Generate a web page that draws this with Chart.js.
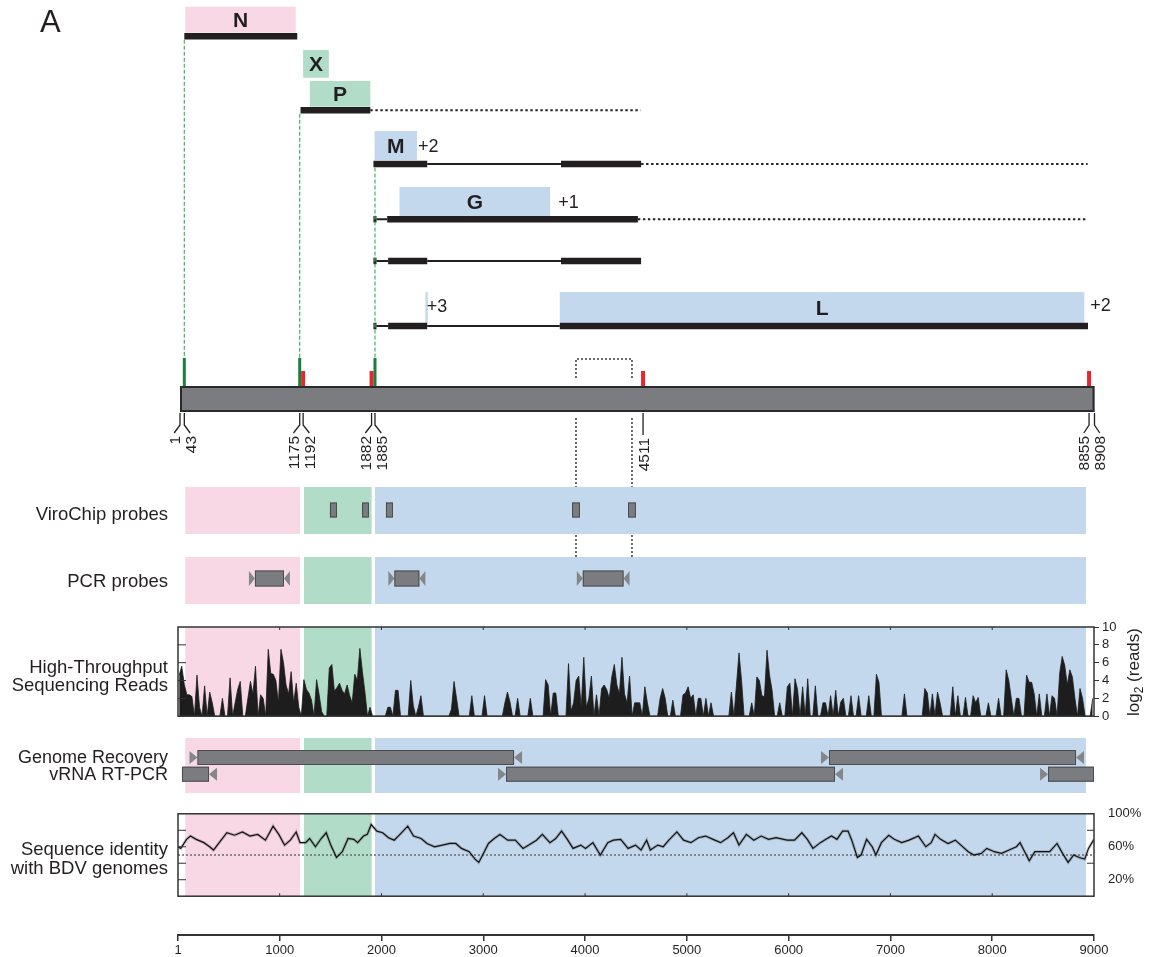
<!DOCTYPE html>
<html>
<head>
<meta charset="utf-8">
<title>Genome organization, probes and sequencing coverage</title>
<script src="https://cdn.jsdelivr.net/npm/chart.js@4.4.1/dist/chart.umd.min.js"></script>
<style>
  html, body { margin: 0; padding: 0; background: #ffffff; }
  #figure { position: relative; width: 1152px; height: 957px; overflow: hidden; background: #ffffff; }
  #figure canvas { position: absolute; left: 0; }
</style>
</head>
<body>
<div id="figure"></div>
<script>
// ---------------- genome map (nucleotide positions) ----------------
const genomeStart = 1;
const genomeEnd = 8908;
const sitePositions = [1, 43, 1175, 1192, 1882, 1885, 4511, 8855, 8908];
const initiationSites = [43, 1175, 1885];
const terminationSites = [1192, 1882, 4511, 8855];

// open reading frames
const orfNames = ['N', 'X', 'P', 'M', 'G', 'L', ''];
const orfStart = [52, 1200, 1265, 1896, 2139, 3700, 2391];
const orfEnd   = [1128, 1451, 1855, 2310, 3606, 8809, 2414];
const orfFrame = ['', '', '', '+2', '+1', '+2', '+3'];

// transcripts: coding blocks, spliced introns and read-through
const exonTx    = ['N', 'P', 'M', 'M', 'G', 'G', 'MG', 'MG', 'MG', 'L', 'L', 'L'];
const exonStart = [43, 1175, 1885, 3712, 1885, 2019, 1885, 2028, 3712, 1885, 2028, 3700];
const exonEnd   = [1143, 1855, 2409, 4492, 1915, 4461, 1915, 2409, 4492, 1915, 2409, 8845];
const intronTx    = ['M', 'G', 'MG', 'MG', 'L', 'L'];
const intronStart = [2409, 1915, 1915, 2409, 1915, 2409];
const intronEnd   = [3712, 2019, 2028, 3712, 2028, 3700];
const readThroughTx    = ['P', 'M', 'G'];
const readThroughStart = [1855, 4492, 4461];
const readThroughEnd   = [4487, 8841, 8841];

// ---------------- tracks (shared nucleotide axis) ----------------
const axisMin = 1;
const axisMax = 9000;
const axisTicks = [1, 1000, 2000, 3000, 4000, 5000, 6000, 7000, 8000, 9000];
const geneRegionStart = [72, 1239, 1936];
const geneRegionEnd   = [1200, 1903, 8921];

const viroProbeStart = [1494, 1809, 2044, 3872, 4422];
const viroProbeEnd   = [1563, 1877, 2113, 3950, 4500];

const pcrStart = [698, 2068, 3919];
const pcrEnd   = [1101, 2431, 4437];

const ampStart = [114, 6318, 40, 3145, 8470];
const ampEnd   = [3381, 8902, 384, 6534, 9000];
const ampLane  = [0, 0, 1, 1, 1];
const ampFwd   = [1, 1, 0, 1, 1];
const ampRev   = [1, 1, 1, 1, 0];

// log2(read depth) in 25-nt bins, one row per 1000 nt
const readBin = 25;
const readsLog2 = [
  4.6,5.6,3.6,2.4,2.4,2.2,0,4.6,1.0,0, 3.4,0,2.7,1.5,0,0,0,2.0,0,0, 4.3,0,1.5,3.0,3.9,0,0,2.0,3.9,2.5, 5.6,0,2.4,2.0,0,7.5,4.8,4.7,4.0,1.5,
  7.5,6.0,3.5,2.5,5.0,1.5,3.7,1.0,0,4.1, 3.0,2.6,1.8,0,4.1,2.4,0.5,0,0,5.4, 5.8,2.8,3.2,3.7,2.9,2.5,3.5,2.3,1.5,4.7, 4.0,7.6,5.0,2.7,0,1.0,0,0,0,0,
  0,0,1.0,1.0,0,2.9,2.9,0,0,0, 0,4.0,1.2,0,1.0,2.3,0,0,0,0, 0,0,0,0,0,0,0,0.8,3.9,2.0, 0,0,0,0,0,2.3,0,0,0,0,
  2.3,0,0,0,0,0,0,0,1.5,2.7, 1.6,0,0,2.0,0,0,0,0,2.0,0, 0,0,0,0,4.1,3.5,0,2.6,2.6,0, 0,0,0,5.9,0.6,1.5,4.0,4.5,1.0,6.6,
  1.0,2.0,4.5,0,2.4,0,3.1,3.5,3.0,2.0, 4.4,5.8,3.5,2.5,6.6,2.5,1.5,4.5,0,1.5, 1.5,1.5,0,3.3,1.5,0,0,0,0,2.0, 3.1,2.0,0,0,1.8,0,0,0,2.4,2.6,
  3.3,2.0,2.4,0,2.0,2.0,0,2.0,0,1.5, 0,0,0,0,0,0,0,2.7,0,3.5, 7.1,4.0,0,0,0,1.5,0,4.4,4.0,2.3, 2.2,7.4,4.6,2.9,0,0,1.5,0,0,3.3,
  3.7,0,4.2,3.0,0,3.3,0,4.2,0,0, 3.4,0,0,1.5,1.5,0,2.3,0,2.9,0, 1.6,2.0,0,0,2.3,0,0,2.3,0,0, 0,2.3,0,0,4.7,3.8,0,0,0,0,
  0,0,0,0,0,2.5,0,0,0,0, 0,0,0,3.1,2.6,0,2.5,0,2.7,1.5, 0,0,0,0,3.3,0,2.3,0,0,2.1, 0,0,2.3,1.5,2.1,0,0,0,1.5,0,
  0,0,2.0,0,0,5.2,4.0,2.0,0,2.0, 2.0,0,0,4.6,3.8,3.8,2.5,0,2.5,0, 0,2.5,0,2.3,2.0,0,4.8,6.7,5.7,3.5, 5.2,4.4,2.0,0,3.1,2.0,0,0,0,2.0
];
const readTicks = [0, 2, 4, 6, 8, 10];

// percent identity with BDV genomes along the genome
const identityPos = [
  1, 28, 85, 123, 180, 255, 312, 350, 406, 481,
  557, 633, 708, 784, 860, 935, 991, 1048, 1105, 1162,
  1200, 1256, 1294, 1351, 1408, 1457, 1502, 1558, 1615, 1672,
  1728, 1766, 1823, 1861, 1899, 1955, 2012, 2069, 2125, 2182,
  2258, 2315, 2390, 2447, 2522, 2598, 2673, 2730, 2786, 2862,
  2919, 2956, 2994, 3051, 3108, 3164, 3240, 3315, 3391, 3447,
  3523, 3580, 3655, 3712, 3769, 3826, 3882, 3958, 4005, 4077,
  4150, 4223, 4278, 4350, 4423, 4496, 4550, 4605, 4641, 4714,
  4768, 4823, 4902, 4968, 5040, 5113, 5185, 5258, 5331, 5403,
  5458, 5512, 5585, 5658, 5730, 5803, 5876, 5985, 6058, 6130,
  6184, 6239, 6312, 6366, 6421, 6475, 6530, 6584, 6620, 6675,
  6712, 6766, 6821, 6857, 6911, 6984, 7038, 7111, 7183, 7275,
  7348, 7401, 7438, 7493, 7566, 7638, 7692, 7765, 7820, 7893,
  7947, 8020, 8092, 8165, 8238, 8274, 8310, 8364, 8419, 8492,
  8564, 8637, 8691, 8746, 8800, 8855, 8909, 8946, 9000
];
const identityPct = [
  60, 58, 69, 73, 69, 65, 60, 56, 65, 77,
  74, 78, 73, 75, 68, 85, 75, 62, 68, 78,
  65, 65, 70, 60, 70, 77, 62, 47, 54, 70,
  69, 65, 73, 75, 87, 79, 77, 71, 68, 75,
  85, 73, 70, 64, 60, 62, 64, 64, 58, 54,
  45, 41, 50, 64, 70, 75, 68, 68, 58, 62,
  68, 75, 65, 70, 79, 69, 58, 62, 58, 65,
  50, 65, 68, 69, 58, 62, 56, 68, 56, 62,
  60, 68, 78, 68, 65, 71, 73, 69, 65, 71,
  77, 62, 75, 68, 73, 69, 71, 68, 68, 77,
  69, 58, 65, 69, 73, 69, 79, 79, 68, 47,
  50, 69, 60, 50, 65, 74, 69, 65, 68, 73,
  60, 65, 75, 69, 64, 68, 62, 54, 50, 52,
  58, 54, 52, 56, 60, 65, 56, 43, 54, 54,
  54, 64, 52, 41, 50, 47, 45, 58, 69
];
const identityCutoff = 50;
const identityTicks = [20, 60, 100];

// ---------------- styling ----------------
const INK = '#231f20';
const FRAME = '#333333';
const FONT = '"Liberation Sans", Arial, Helvetica, sans-serif';
const REGION_FILL = ['#f9d8e5', '#b1dcc8', '#c3d8ec'];
const ORF_FILL = ['#f9d8e5', '#b1dcc8', '#b1dcc8', '#c3d8ec', '#c3d8ec', '#c3d8ec', '#c3d8ec'];
const BAR_GREY = '#7b7c80';
const EDGE_GREY = '#4b4c4f';
const START_GREEN = '#1a7f3f';
const GUIDE_GREEN = '#45b06a';
const STOP_RED = '#e8262b';

Chart.defaults.font.family = FONT;
Chart.defaults.color = INK;

const fig = document.getElementById('figure');
function addCanvas(top, height) {
  const c = document.createElement('canvas');
  c.width = 1152;
  c.height = height;
  c.style.top = top + 'px';
  c.style.width = '1152px';
  c.style.height = height + 'px';
  fig.appendChild(c);
  return c;
}
function baseOptions(padding) {
  return {
    responsive: false,
    animation: false,
    events: [],
    devicePixelRatio: 1,
    layout: { padding },
    plugins: { legend: { display: false }, tooltip: { enabled: false } },
    elements: { point: { radius: 0 } }
  };
}
function trackX() {
  return { type: 'linear', min: axisMin, max: axisMax, display: false };
}
function line(ctx, x1, y1, x2, y2) {
  ctx.beginPath(); ctx.moveTo(x1, y1); ctx.lineTo(x2, y2); ctx.stroke();
}
function drawRegions(chart, y1, y2) {
  const ctx = chart.ctx, xs = chart.scales.x;
  geneRegionStart.forEach((s, i) => {
    const a = xs.getPixelForValue(s), b = xs.getPixelForValue(geneRegionEnd[i]);
    ctx.fillStyle = REGION_FILL[i];
    ctx.fillRect(a, y1, b - a, y2 - y1);
  });
}
function drawTrackLabel(ctx, lines, baselines, size) {
  ctx.save();
  ctx.fillStyle = INK;
  ctx.font = size + 'px ' + FONT;
  ctx.textAlign = 'right';
  ctx.textBaseline = 'alphabetic';
  lines.forEach((t, i) => ctx.fillText(t, 168, baselines[i]));
  ctx.restore();
}
// amplicon glyph: forward primer, product, reverse primer
function drawAmplicon(ctx, x1, x2, yc, h, aw, th, fwd, rev) {
  const r1 = fwd ? x1 + aw : x1;
  const r2 = rev ? x2 - aw : x2;
  ctx.fillStyle = '#85868a';
  if (fwd) {
    ctx.beginPath(); ctx.moveTo(x1, yc - th / 2); ctx.lineTo(x1 + aw, yc); ctx.lineTo(x1, yc + th / 2); ctx.closePath(); ctx.fill();
  }
  if (rev) {
    ctx.beginPath(); ctx.moveTo(x2, yc - th / 2); ctx.lineTo(x2 - aw, yc); ctx.lineTo(x2, yc + th / 2); ctx.closePath(); ctx.fill();
  }
  ctx.fillStyle = BAR_GREY;
  ctx.fillRect(r1, yc - h / 2, r2 - r1, h);
  ctx.strokeStyle = EDGE_GREY;
  ctx.lineWidth = 1;
  ctx.strokeRect(r1 + 0.5, yc - h / 2 + 0.5, r2 - r1 - 1, h - 1);
}

// ================= A: genome map =================
const MAP_H = 487;
const txY = { N: 36.3, P: 110.3, M: 164, G: 219.3, MG: 261, L: 326 };
const boxBand = { N: [6.7, 32.7], X: [50, 77.7], P: [81, 106.7], M: [131, 160], G: [187, 216], L: [292, 322.7] };
const orfBand = ['N', 'X', 'P', 'M', 'G', 'L', 'L'];
const frameGap = [0, 0, 0, 1, 8, 6, -1];
const frameDy = [0, 0, 0, 0, 0, -3, -2];
const siteSplay = [-1, 1, -1, 1, -1, 1, 0, -1, 1];
const guideFrom = ['N', 'P', 'M'];

function segments(tx, starts, ends) {
  const pts = [];
  starts.forEach((s, i) => {
    const y = txY[tx[i]];
    pts.push({ x: s, y }, { x: ends[i], y }, { x: ends[i], y: null });
  });
  return pts;
}
function stroke(color, width, extra) {
  return Object.assign({
    type: 'line', borderColor: color, borderWidth: width, borderCapStyle: 'butt',
    pointRadius: 0, fill: false, tension: 0, spanGaps: false
  }, extra);
}
const mapDatasets = [
  stroke(INK, 6.5, { data: segments(exonTx, exonStart, exonEnd), order: 0 }),
  stroke(INK, 2, { data: segments(intronTx, intronStart, intronEnd), order: 1 }),
  stroke(INK, 2, { data: segments(readThroughTx, readThroughStart, readThroughEnd), borderDash: [2.4, 2.6], order: 2 })
];
orfStart.forEach((s, i) => {
  const [t, b] = boxBand[orfBand[i]];
  mapDatasets.push(stroke(ORF_FILL[i], b - t, {
    data: [{ x: s, y: (t + b) / 2 }, { x: orfEnd[i], y: (t + b) / 2 }], order: 3
  }));
});

const mapPlugin = {
  id: 'mapDecor',
  afterDatasetsDraw(chart) {
    const ctx = chart.ctx, xs = chart.scales.x, ys = chart.scales.y;
    const X = v => xs.getPixelForValue(v), Y = v => ys.getPixelForValue(v);
    ctx.save();
    ctx.fillStyle = INK;

    // panel letter
    ctx.font = '31px ' + FONT;
    ctx.textAlign = 'left';
    ctx.textBaseline = 'alphabetic';
    ctx.fillText('A', 40, Y(32));

    // ORF names and reading frames
    orfNames.forEach((name, i) => {
      const [t, b] = boxBand[orfBand[i]];
      const x1 = X(orfStart[i]), x2 = X(orfEnd[i]);
      const yc = Y((t + b) / 2);
      if (name) {
        ctx.font = 'bold 21px ' + FONT;
        ctx.textAlign = 'center';
        ctx.fillText(name, (x1 + x2) / 2, yc + 7.5);
      }
      if (orfFrame[i]) {
        ctx.font = '18px ' + FONT;
        ctx.textAlign = 'left';
        ctx.fillText(orfFrame[i], x2 + frameGap[i], yc + 6.5 + frameDy[i]);
      }
    });

    // genome bar
    const g1 = X(genomeStart), g2 = X(genomeEnd);
    ctx.fillStyle = BAR_GREY;
    ctx.fillRect(g1, Y(386), g2 - g1, Y(412) - Y(386));
    ctx.strokeStyle = '#2a2a2c';
    ctx.lineWidth = 2;
    ctx.strokeRect(g1 + 1, Y(386) + 1, g2 - g1 - 2, Y(412) - Y(386) - 2);

    // site x positions, nudged apart where two sites nearly coincide
    const px = sitePositions.map(X);
    const sx = px.slice();
    siteSplay.forEach((s, i) => {
      if (s === -1) {
        const need = Math.max(0, (3.4 - (px[i + 1] - px[i])) / 2);
        sx[i] -= need; sx[i + 1] += need;
      }
    });

    // guides from transcript starts to initiation sites
    ctx.strokeStyle = GUIDE_GREEN;
    ctx.lineWidth = 1.2;
    ctx.setLineDash([4, 2]);
    initiationSites.forEach((v, k) => {
      const i = sitePositions.indexOf(v);
      line(ctx, sx[i], Y(txY[guideFrom[k]] + 3.5), sx[i], Y(358));
    });
    ctx.setLineDash([]);

    // termination (red) and initiation (green) signals
    terminationSites.forEach(v => {
      const i = sitePositions.indexOf(v);
      ctx.fillStyle = STOP_RED;
      ctx.fillRect(sx[i] - 2, Y(371), 4, Y(386) - Y(371));
    });
    initiationSites.forEach(v => {
      const i = sitePositions.indexOf(v);
      ctx.fillStyle = START_GREEN;
      ctx.fillRect(sx[i] - 1.5, Y(358), 3, Y(386) - Y(358));
    });

    // position ticks and labels
    ctx.strokeStyle = INK;
    ctx.lineWidth = 1.3;
    ctx.fillStyle = INK;
    ctx.font = '15.5px ' + FONT;
    sitePositions.forEach((v, i) => {
      const x = sx[i];
      let lx = x, top;
      if (siteSplay[i] === 0) {
        line(ctx, x, Y(413), x, Y(435));
        top = Y(438);
      } else {
        const j = i - siteSplay[i];
        lx = (sx[i] + sx[j]) / 2 + siteSplay[i] * 8;
        ctx.beginPath();
        ctx.moveTo(x, Y(413)); ctx.lineTo(x, Y(425)); ctx.lineTo(lx, Y(433));
        ctx.stroke();
        top = Y(436);
      }
      ctx.save();
      ctx.translate(lx, top);
      ctx.rotate(-Math.PI / 2);
      ctx.textAlign = 'right';
      ctx.textBaseline = 'alphabetic';
      ctx.fillText(String(v), 0, 5.5);
      ctx.restore();
    });
    ctx.restore();
  }
};

const mapOpts = baseOptions({ left: 180, right: 57.5, top: 0, bottom: 0 });
mapOpts.scales = {
  x: { type: 'linear', min: genomeStart, max: genomeEnd, display: false },
  y: { type: 'linear', min: 0, max: MAP_H, reverse: true, display: false }
};
new Chart(addCanvas(0, MAP_H), { type: 'line', data: { datasets: mapDatasets }, options: mapOpts, plugins: [mapPlugin] });

// ================= ViroChip probes (with bracket to genome map) =================
const viroPlugin = {
  id: 'viroDecor',
  afterDraw(chart) {
    const ctx = chart.ctx, a = chart.chartArea, xs = chart.scales.x;
    ctx.save();
    drawRegions(chart, a.top, a.bottom);
    const yc = a.top + 23;
    viroProbeStart.forEach((s, i) => {
      const x1 = xs.getPixelForValue(s), x2 = xs.getPixelForValue(viroProbeEnd[i]);
      ctx.fillStyle = BAR_GREY;
      ctx.fillRect(x1, yc - 7.5, x2 - x1, 15);
      ctx.strokeStyle = EDGE_GREY;
      ctx.lineWidth = 1;
      ctx.strokeRect(x1 + 0.5, yc - 7, x2 - x1 - 1, 14);
    });
    // probe pair projected onto the genome map
    const c1 = xs.getPixelForValue((viroProbeStart[3] + viroProbeEnd[3]) / 2);
    const c2 = xs.getPixelForValue((viroProbeStart[4] + viroProbeEnd[4]) / 2);
    ctx.strokeStyle = '#3a3a3a';
    ctx.lineWidth = 1.5;
    ctx.setLineDash([2, 2]);
    ctx.beginPath();
    ctx.moveTo(c1, a.top - 109); ctx.lineTo(c1, a.top - 128); ctx.lineTo(c2, a.top - 128); ctx.lineTo(c2, a.top - 109);
    ctx.stroke();
    [c1, c2].forEach(c => {
      line(ctx, c, a.top - 69, c, a.top);
      line(ctx, c, a.bottom + 1, c, a.bottom + 23);
    });
    ctx.setLineDash([]);
    drawTrackLabel(ctx, ['ViroChip probes'], [a.top + 32.5], 18.5);
    ctx.restore();
  }
};
const viroOpts = baseOptions({ left: 178, right: 58, top: 132, bottom: 23 });
viroOpts.scales = { x: trackX(), y: { type: 'linear', min: 0, max: 1, display: false } };
new Chart(addCanvas(355, 202), { type: 'line', data: { datasets: [] }, options: viroOpts, plugins: [viroPlugin] });

// ================= PCR probes =================
const pcrPlugin = {
  id: 'pcrDecor',
  afterDraw(chart) {
    const ctx = chart.ctx, a = chart.chartArea, xs = chart.scales.x;
    ctx.save();
    drawRegions(chart, a.top, a.bottom);
    pcrStart.forEach((s, i) => {
      drawAmplicon(ctx, xs.getPixelForValue(s), xs.getPixelForValue(pcrEnd[i]), a.top + 21.5, 16, 6, 15, true, true);
    });
    drawTrackLabel(ctx, ['PCR probes'], [a.top + 30], 18.5);
    ctx.restore();
  }
};
const pcrOpts = baseOptions({ left: 178, right: 58, top: 0, bottom: 0 });
pcrOpts.scales = { x: trackX(), y: { type: 'linear', min: 0, max: 1, display: false } };
new Chart(addCanvas(557, 47), { type: 'line', data: { datasets: [] }, options: pcrOpts, plugins: [pcrPlugin] });

// ================= high-throughput sequencing reads =================
const htsPlugin = {
  id: 'htsDecor',
  beforeDatasetsDraw(chart) {
    const a = chart.chartArea;
    drawRegions(chart, a.top, a.bottom);
  },
  afterDatasetsDraw(chart) {
    const ctx = chart.ctx, a = chart.chartArea, xs = chart.scales.x, ys = chart.scales.y;
    ctx.save();
    ctx.strokeStyle = FRAME;
    ctx.lineWidth = 1.5;
    ctx.strokeRect(a.left, a.top, a.right - a.left, a.bottom - a.top);
    ctx.lineWidth = 1;
    readTicks.slice(1, -1).forEach(v => { const y = ys.getPixelForValue(v); line(ctx, a.left, y, a.left + 8, y); });
    axisTicks.slice(1, -1).forEach(v => { const x = xs.getPixelForValue(v); line(ctx, x, a.top, x, a.top + 3); });
    drawTrackLabel(ctx, ['High-Throughput', 'Sequencing Reads'], [a.top + 46, a.top + 64], 18.5);

    // axis title: log2 (reads)
    ctx.translate(a.right + 39, a.top + 45);
    ctx.rotate(-Math.PI / 2);
    ctx.fillStyle = INK;
    ctx.textBaseline = 'alphabetic';
    ctx.textAlign = 'left';
    const big = '17px ' + FONT, small = '12px ' + FONT;
    ctx.font = big; const w1 = ctx.measureText('log').width, w3 = ctx.measureText(' (reads)').width;
    ctx.font = small; const w2 = ctx.measureText('2').width;
    let x0 = -(w1 + w2 + w3) / 2;
    ctx.font = big; ctx.fillText('log', x0, 6);
    ctx.font = small; ctx.fillText('2', x0 + w1, 10);
    ctx.font = big; ctx.fillText(' (reads)', x0 + w1 + w2, 6);
    ctx.restore();
  }
};
const htsOpts = baseOptions({ left: 178, right: 0, top: 15, bottom: 10 });
htsOpts.scales = {
  x: trackX(),
  y: {
    type: 'linear', position: 'right', min: 0, max: 10,
    afterBuildTicks: s => { s.ticks = readTicks.map(v => ({ value: v })); },
    afterFit: s => { s.width = 58; },
    grid: { drawOnChartArea: false, tickLength: 5, color: FRAME, lineWidth: 1 },
    border: { display: false },
    ticks: { autoSkip: false, padding: 3, font: { size: 13 }, color: INK }
  }
};
new Chart(addCanvas(612, 115), {
  type: 'line',
  data: {
    datasets: [{
      data: readsLog2.map((v, i) => ({ x: i * readBin + readBin / 2, y: v })),
      borderColor: '#1d1d1d', backgroundColor: '#1d1d1d', borderWidth: 0.8,
      fill: 'origin', pointRadius: 0, tension: 0
    }]
  },
  options: htsOpts,
  plugins: [htsPlugin]
});

// ================= genome recovery by vRNA RT-PCR =================
const laneOffset = [19.5, 36.2];
const recPlugin = {
  id: 'recoveryDecor',
  afterDraw(chart) {
    const ctx = chart.ctx, a = chart.chartArea, xs = chart.scales.x;
    ctx.save();
    drawRegions(chart, a.top, a.bottom);
    ampStart.forEach((s, i) => {
      drawAmplicon(ctx, xs.getPixelForValue(s), xs.getPixelForValue(ampEnd[i]),
        a.top + laneOffset[ampLane[i]], 15, 8, 13, !!ampFwd[i], !!ampRev[i]);
    });
    drawTrackLabel(ctx, ['Genome Recovery', 'vRNA RT-PCR'], [a.top + 25, a.top + 42], 18);
    ctx.restore();
  }
};
const recOpts = baseOptions({ left: 178, right: 58, top: 0, bottom: 0 });
recOpts.scales = { x: trackX(), y: { type: 'linear', min: 0, max: 1, display: false } };
new Chart(addCanvas(738, 55), { type: 'line', data: { datasets: [] }, options: recOpts, plugins: [recPlugin] });

// ================= sequence identity =================
const idPlugin = {
  id: 'identityDecor',
  beforeDatasetsDraw(chart) {
    const a = chart.chartArea;
    drawRegions(chart, a.top, a.bottom);
  },
  afterDatasetsDraw(chart) {
    const ctx = chart.ctx, a = chart.chartArea, xs = chart.scales.x, ys = chart.scales.y;
    ctx.save();
    ctx.strokeStyle = FRAME;
    ctx.lineWidth = 1.5;
    ctx.strokeRect(a.left, a.top, a.right - a.left, a.bottom - a.top);
    ctx.lineWidth = 1;
    [20, 40, 60, 80].forEach(v => { const y = ys.getPixelForValue(v); line(ctx, a.left, y, a.left + 8, y); });
    [40, 80].forEach(v => { const y = ys.getPixelForValue(v); line(ctx, a.right - 7, y, a.right, y); });
    axisTicks.slice(1, -1).forEach(v => { const x = xs.getPixelForValue(v); line(ctx, x, a.bottom - 3, x, a.bottom); });
    drawTrackLabel(ctx, ['Sequence identity', 'with BDV genomes'], [a.top + 41, a.top + 60], 18.5);
    ctx.restore();
  }
};
const idOpts = baseOptions({ left: 178, right: 0, top: 13, bottom: 8 });
idOpts.scales = {
  x: trackX(),
  y: {
    type: 'linear', position: 'right', min: 0, max: 100,
    afterBuildTicks: s => { s.ticks = identityTicks.map(v => ({ value: v })); },
    afterFit: s => { s.width = 58; },
    grid: { display: false },
    border: { display: false },
    ticks: { autoSkip: false, padding: 6, font: { size: 13 }, color: INK, callback: v => v + '%' }
  }
};
const identityPoints = identityPos.map((p, i) => ({ x: p, y: identityPct[i] }));
new Chart(addCanvas(800, 110), {
  type: 'line',
  data: {
    datasets: [
      { data: identityPoints, borderColor: '#111111', borderWidth: 1.2, pointRadius: 0, tension: 0, fill: false, order: 0 },
      { data: identityPoints, borderColor: 'rgba(70,70,70,0.28)', borderWidth: 3, pointRadius: 0, tension: 0, fill: false, order: 1 },
      { data: [{ x: axisMin, y: identityCutoff }, { x: axisMax, y: identityCutoff }], borderColor: '#6a6a6a',
        borderWidth: 1.5, borderDash: [2, 2], pointRadius: 0, fill: false, order: 2 }
    ]
  },
  options: idOpts,
  plugins: [idPlugin]
});

// ================= nucleotide axis =================
const axisOpts = baseOptions({ left: 178, right: 58, top: 0, bottom: 0 });
axisOpts.scales = {
  x: {
    type: 'linear', position: 'bottom', min: axisMin, max: axisMax,
    afterBuildTicks: s => { s.ticks = axisTicks.map(v => ({ value: v })); },
    afterFit: s => { s.height = 22; },
    ticks: { autoSkip: false, maxRotation: 0, padding: 2, font: { size: 13 }, color: INK, callback: v => String(v) },
    grid: { drawOnChartArea: false, tickLength: 6, color: FRAME, lineWidth: 1.5 },
    border: { color: FRAME, width: 2 }
  },
  y: { type: 'linear', min: 0, max: 1, display: false }
};
new Chart(addCanvas(905, 52), { type: 'line', data: { datasets: [] }, options: axisOpts });
</script>
</body>
</html>
